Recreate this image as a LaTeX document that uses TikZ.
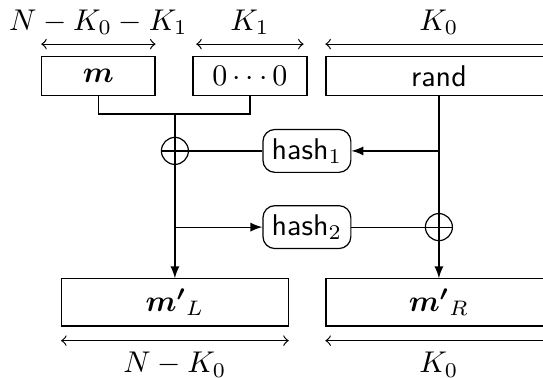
\documentclass[tikz,border=0pt]{standalone}
\usepackage{amsmath}
\usetikzlibrary{arrows, positioning, calc}
\tikzset{
  field/.style={draw, rectangle, minimum width=#1, minimum height=12.8pt,
                inner sep=0pt},
  field/.default=37.7pt,
  outfield/.style={draw, rectangle, minimum width=#1, minimum height=15.7pt,
                   inner sep=0pt},
  outfield/.default=75.5pt,
  hashbox/.style={draw, rounded corners=4pt, minimum width=29.3pt,
                  minimum height=14.3pt, inner sep=0pt, font=\sffamily},
  xorop/.style={draw, circle, minimum size=9pt, inner sep=0pt,
                path picture={\draw (path picture bounding box.north) --
                  (path picture bounding box.south)
                  (path picture bounding box.west) --
                  (path picture bounding box.east);}},
  flow/.style={-latex},
  dim/.style={<->},
  dimlabel/.style={inner sep=0pt},
}
\begin{document}
\begin{tikzpicture}[x=1pt, y=1pt]
  \useasboundingbox (0,0) rectangle (181,-125.7);

  % Input fields
  \node[field]          (msg)   at (32.8,-25.3)  {$\boldsymbol{m}$};
  \node[field=38pt]     (zeros) at (83.3,-25.3)  {$0\cdots0$};
  \node[field=75.3pt]   (rand)  at (146.3,-25.3) {\textsf{rand}};

  % Hash functions and xors
  \node[hashbox] (hash1) at (102.3,-50.3) {hash$_1$};
  \node[hashbox] (hash2) at (102.3,-75.7) {hash$_2$};
  \node[xorop]   (xor1)  at (58.3,-50.3) {};
  \node[xorop]   (xor2)  at (146.3,-75.7) {};

  % Output fields
  \node[outfield]        (outL) at (58.3,-100.8)  {$\boldsymbol{m'}_L$};
  \node[outfield=75.3pt] (outR) at (146.3,-100.8) {$\boldsymbol{m'}_R$};

  % Branch points
  \coordinate (join)  at (58.3,-38);
  \coordinate (tapL)  at (xor1 |- hash2);
  \coordinate (tapR)  at (rand |- hash1);

  % Left branch
  \draw (msg.south) |- (join) -| (zeros.south);
  \draw (join) -- (xor1);
  \draw[flow] (xor1) -- (outL);
  \draw (hash1) -- (xor1);
  \draw[flow] (tapL) -- (hash2);

  % Right branch
  \draw (rand) -- (xor2);
  \draw[flow] (xor2) -- (outR);
  \draw[flow] (tapR) -- (hash1);
  \draw (hash2) -- (xor2);

  % Sizes
  \draw[dim] ([yshift=4pt]msg.north west) -- ([yshift=4pt]msg.north east)
    node[midway, above=3pt, dimlabel] {$N-K_0-K_1$};
  \draw[dim, shorten <=1.3pt, shorten >=1.3pt]
    ([yshift=4pt]zeros.north west) -- ([yshift=4pt]zeros.north east)
    node[midway, above=3pt, dimlabel] {$K_1$};
  \draw[dim] ([yshift=4pt]rand.north west) -- ([yshift=4pt]rand.north east)
    node[midway, above=3pt, dimlabel] {$K_0$};
  \draw[dim] ([yshift=-4.7pt]outL.south west) -- ([yshift=-4.7pt]outL.south east)
    node[midway, below=3.6pt, dimlabel] {$N-K_0$};
  \draw[dim] ([yshift=-4.7pt]outR.south west) -- ([yshift=-4.7pt]outR.south east)
    node[midway, below=3.6pt, dimlabel] {$K_0$};

\end{tikzpicture}
\end{document}
